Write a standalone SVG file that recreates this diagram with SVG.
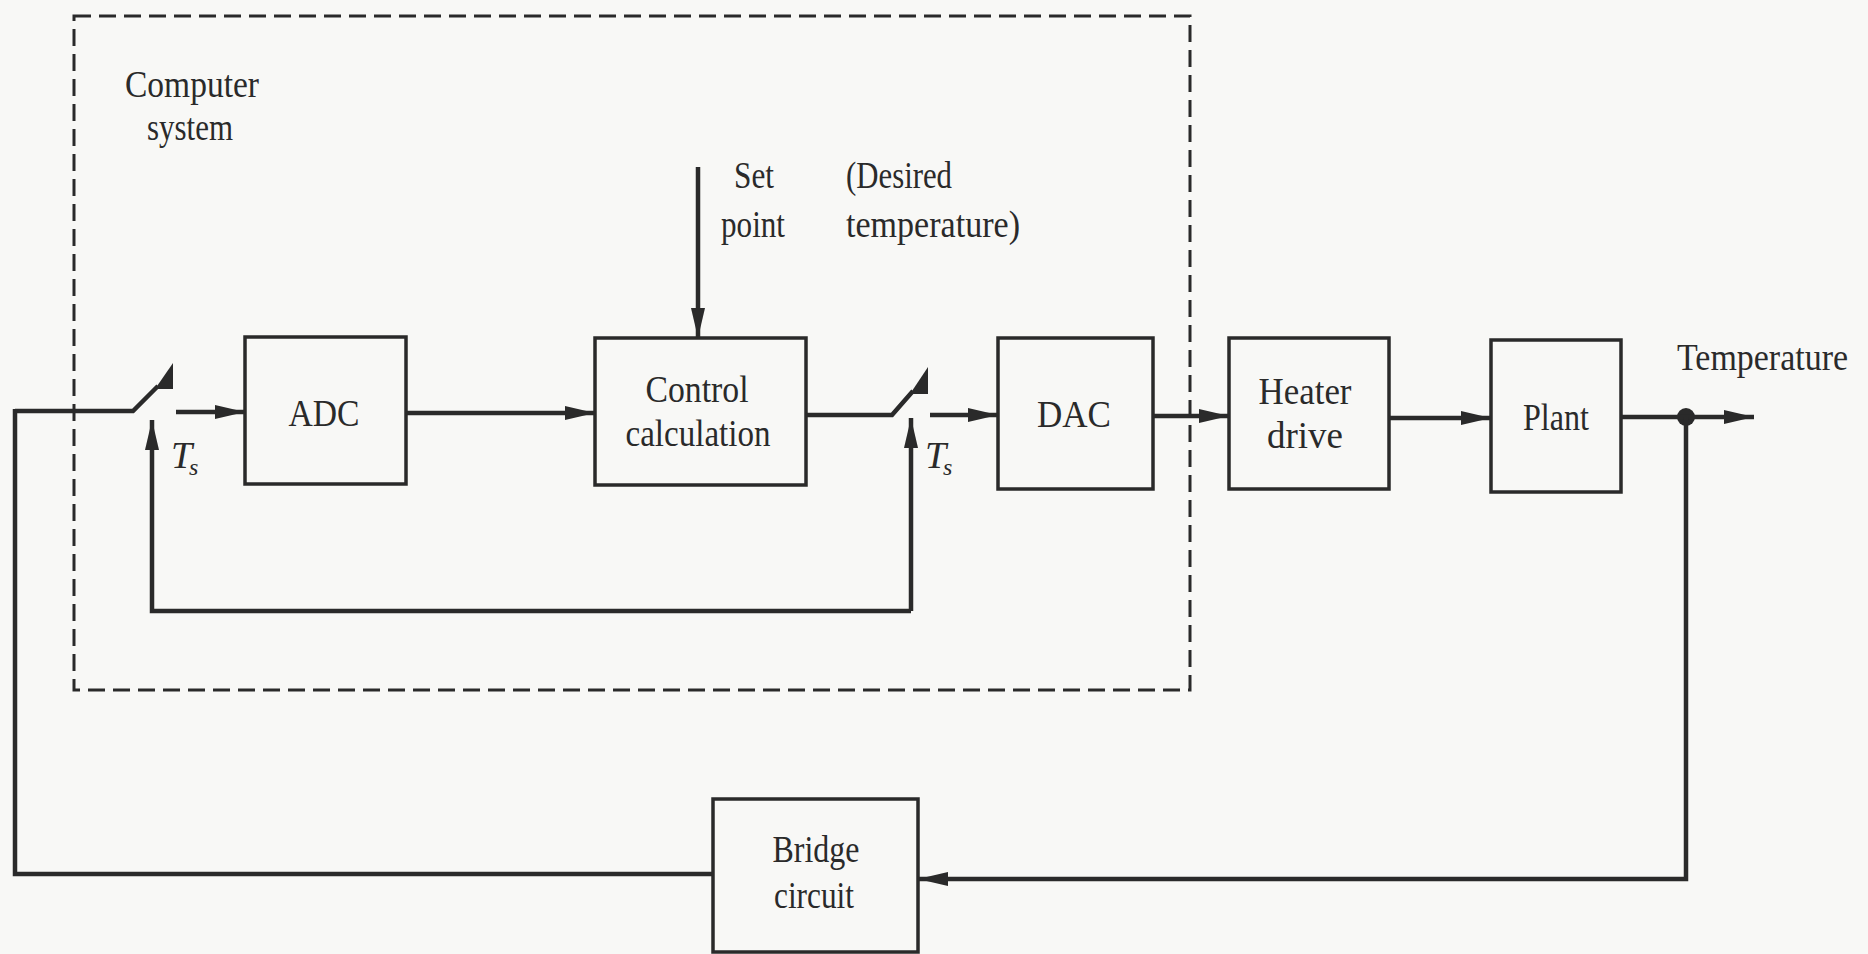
<svg xmlns="http://www.w3.org/2000/svg" width="1868" height="954" viewBox="0 0 1868 954">
  <style>
    .box { fill: none; stroke: #2a2a2a; stroke-width: 3.5; }
    .wire { fill: none; stroke: #2a2a2a; stroke-width: 4.5; }
    .lbl { font-family: "Liberation Serif", "Times New Roman", serif; font-size: 38px; fill: #2a2a2a; }
    .mid { text-anchor: middle; }
    .ital { font-family: "Liberation Serif", "Times New Roman", serif; font-style: italic; fill: #2a2a2a; }
    .frame { fill: none; stroke: #2a2a2a; stroke-width: 3; stroke-dasharray: 17 8; }
    .blade { fill: #2a2a2a; stroke: none; }
  </style>
  <defs>
    <marker id="arrow" markerUnits="userSpaceOnUse" markerWidth="32" markerHeight="16" refX="30" refY="7" orient="auto">
      <path d="M0,0 L30,7 L0,14 z" fill="#2a2a2a"/>
    </marker>
  </defs>

  <rect width="1868" height="954" fill="#f8f8f6"/>

  <!-- computer system boundary -->
  <g id="computer-system">
    <rect class="frame" x="74" y="16" width="1116" height="674"/>
    <text class="lbl" x="125" y="97" textLength="134" lengthAdjust="spacingAndGlyphs">Computer</text>
    <text class="lbl" x="147" y="140" textLength="86" lengthAdjust="spacingAndGlyphs">system</text>
  </g>

  <!-- blocks -->
  <g id="adc">
    <rect class="box" x="245" y="337" width="161" height="147"/>
    <text class="lbl mid" x="324" y="426" textLength="71" lengthAdjust="spacingAndGlyphs">ADC</text>
  </g>
  <g id="control">
    <rect class="box" x="595" y="338" width="211" height="147"/>
    <text class="lbl mid" x="697" y="402" textLength="103" lengthAdjust="spacingAndGlyphs">Control</text>
    <text class="lbl mid" x="698" y="446" textLength="145" lengthAdjust="spacingAndGlyphs">calculation</text>
  </g>
  <g id="dac">
    <rect class="box" x="998" y="338" width="155" height="151"/>
    <text class="lbl mid" x="1074" y="427" textLength="74" lengthAdjust="spacingAndGlyphs">DAC</text>
  </g>
  <g id="heater">
    <rect class="box" x="1229" y="338" width="160" height="151"/>
    <text class="lbl mid" x="1305" y="404" textLength="93" lengthAdjust="spacingAndGlyphs">Heater</text>
    <text class="lbl mid" x="1305" y="448" textLength="76" lengthAdjust="spacingAndGlyphs">drive</text>
  </g>
  <g id="plant">
    <rect class="box" x="1491" y="340" width="130" height="152"/>
    <text class="lbl mid" x="1556" y="430" textLength="66" lengthAdjust="spacingAndGlyphs">Plant</text>
  </g>
  <g id="bridge">
    <rect class="box" x="713" y="799" width="205" height="153"/>
    <text class="lbl mid" x="816" y="862" textLength="87" lengthAdjust="spacingAndGlyphs">Bridge</text>
    <text class="lbl mid" x="814" y="908" textLength="80" lengthAdjust="spacingAndGlyphs">circuit</text>
  </g>

  <!-- sampling switches -->
  <g id="switch-in">
    <path class="wire" d="M15,411 L133,411 L158,386"/>
    <polygon class="blade" points="155,389 173,363 173,389"/>
    <text class="ital" x="171" y="468" font-size="38">T</text>
    <text class="ital" x="189" y="475" font-size="24">s</text>
  </g>
  <g id="switch-out">
    <path class="wire" d="M806,415 L892,415 L913,391"/>
    <polygon class="blade" points="910,394 928,367 928,394"/>
    <text class="ital" x="925" y="468" font-size="38">T</text>
    <text class="ital" x="943" y="475" font-size="24">s</text>
  </g>

  <!-- set point input -->
  <g id="setpoint">
    <text class="lbl" x="734" y="188" textLength="40" lengthAdjust="spacingAndGlyphs">Set</text>
    <text class="lbl" x="721" y="237" textLength="64" lengthAdjust="spacingAndGlyphs">point</text>
    <text class="lbl" x="846" y="188" textLength="106" lengthAdjust="spacingAndGlyphs">(Desired</text>
    <text class="lbl" x="846" y="237" textLength="174" lengthAdjust="spacingAndGlyphs">temperature)</text>
  </g>

  <!-- output label and pick-off node -->
  <g id="output">
    <text class="lbl" x="1677" y="370" textLength="171" lengthAdjust="spacingAndGlyphs">Temperature</text>
    <circle cx="1686" cy="417" r="9" fill="#2a2a2a"/>
  </g>

  <!-- connectors -->
  <g id="connectors">
    <path class="wire" d="M176,412 L245,412" marker-end="url(#arrow)"/>
    <path class="wire" d="M406,413 L595,413" marker-end="url(#arrow)"/>
    <path class="wire" d="M698,167 L698,338" marker-end="url(#arrow)"/>
    <path class="wire" d="M930,415 L998,415" marker-end="url(#arrow)"/>
    <path class="wire" d="M1153,416 L1229,416" marker-end="url(#arrow)"/>
    <path class="wire" d="M1389,418 L1491,418" marker-end="url(#arrow)"/>
    <path class="wire" d="M1621,417 L1754,417" marker-end="url(#arrow)"/>
    <!-- sample clock lines -->
    <path class="wire" d="M911,611 L152,611 L152,420" marker-end="url(#arrow)"/>
    <path class="wire" d="M911,611 L911,418" marker-end="url(#arrow)"/>
    <!-- feedback path -->
    <path class="wire" d="M1686,417 L1686,879 L918,879" marker-end="url(#arrow)"/>
    <path class="wire" d="M713,874 L15,874 L15,409"/>
  </g>
</svg>
